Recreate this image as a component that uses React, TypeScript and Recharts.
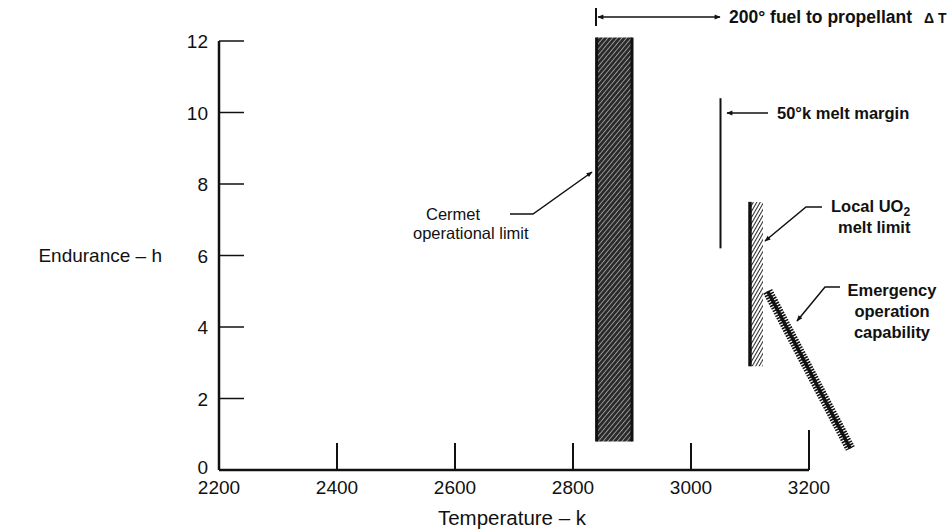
import React from 'react';
import {
  ComposedChart, XAxis, YAxis, Line, ReferenceArea, ReferenceLine, Customized,
} from 'recharts';

const temperatureTicks = [2200, 2400, 2600, 2800, 3000, 3200];
const enduranceTicks = [0, 2, 4, 6, 8, 10, 12];

// cermet operational limit band (K / h)
const cermetTemp = [2840, 2900];
const cermetHours = [0.8, 12.1];

// local UO2 melt limit
const uo2Temp = [3100, 3122];
const uo2Hours = [2.9, 7.5];

// 50 K melt margin marker
const marginTemp = [3050];
const marginHours = [6.2, 10.4];

// emergency operation capability
const emergencyTemp = [3130, 3270];
const emergencyHours = [5.0, 0.6];

const emergency = emergencyTemp.map((t, i) => ({ t, h: emergencyHours[i] }));

const FONT = '"Liberation Sans", Arial, Helvetica, sans-serif';
const INK = '#111';

const XTick = (props: any) => {
  const { x, y, payload } = props;
  const v = payload.value;
  return (
    <g>
      {v !== 2200 && (
        <line x1={x} x2={x} y1={y} y2={y - (v === 3200 ? 40 : 27)} stroke={INK} strokeWidth={2} />
      )}
      <text x={x} y={y + 24} textAnchor="middle" fontSize={19} fontFamily={FONT} fill={INK}>
        {v}
      </text>
    </g>
  );
};

const YTick = (props: any) => {
  const { x, y, payload } = props;
  const v = payload.value;
  return (
    <g>
      {v !== 0 && <line x1={x} x2={x + 25} y1={y} y2={y} stroke={INK} strokeWidth={1.5} />}
      <text x={x - 11} y={v === 0 ? y + 4 : y + 7} textAnchor="end" fontSize={19} fontFamily={FONT} fill={INK}>
        {v}
      </text>
    </g>
  );
};

const txt = { fontFamily: FONT, fontSize: 16.5, fontWeight: 'bold' as const, fill: INK };

const Notes = () => (
  <g>
    <text x={162} y={262} textAnchor="end" fontFamily={FONT} fontSize={19} fill={INK}>Endurance – h</text>
    <text x={512} y={525} textAnchor="middle" fontFamily={FONT} fontSize={20.5} fill={INK}>Temperature – k</text>

    {/* 200 deg fuel to propellant */}
    <line x1={596} x2={596} y1={8} y2={26} stroke={INK} strokeWidth={2} />
    <line x1={598} x2={720} y1={17} y2={17} stroke={INK} strokeWidth={1.3}
      markerStart="url(#arrowHead)" markerEnd="url(#arrowHead)" />
    <text x={729} y={23} {...txt} fontSize={17.5}>200° fuel to propellant</text>
    <text x={924} y={23} {...txt} fontSize={14}>Δ T</text>

    {/* 50 K melt margin */}
    <line x1={768} x2={727} y1={113} y2={113} stroke={INK} strokeWidth={1.3} markerEnd="url(#arrowHead)" />
    <text x={777} y={119} {...txt}>50°k melt margin</text>

    {/* cermet */}
    <text x={426} y={220} {...txt} fontWeight="normal">Cermet</text>
    <text x={413} y={239} {...txt} fontWeight="normal">operational limit</text>
    <polyline points="510,214 533,214 592,172" fill="none" stroke={INK} strokeWidth={1.5} markerEnd="url(#arrowHead)" />

    {/* local UO2 */}
    <text x={831} y={212} {...txt}>Local UO<tspan fontSize={12} dy={4}>2</tspan></text>
    <text x={838} y={233} {...txt}>melt limit</text>
    <polyline points="822,207 806,207 765,241" fill="none" stroke={INK} strokeWidth={1.5} markerEnd="url(#arrowHead)" />

    {/* emergency */}
    <text x={892} y={296} textAnchor="middle" {...txt}>Emergency</text>
    <text x={892} y={317} textAnchor="middle" {...txt}>operation</text>
    <text x={892} y={338} textAnchor="middle" {...txt}>capability</text>
    <polyline points="840,287 825,287 797,321" fill="none" stroke={INK} strokeWidth={1.5} markerEnd="url(#arrowHead)" />
  </g>
);

export default function App() {
  return (
    <div style={{ position: 'absolute', left: 0, top: 0, background: '#fff' }}>
      <ComposedChart width={949} height={531} margin={{ top: 41, right: 81, bottom: 31, left: 159 }}>
        <defs>
          <pattern id="cermetHatch" width="3.6" height="3.6" patternUnits="userSpaceOnUse" patternTransform="rotate(40)">
            <rect width="3.6" height="3.6" fill="#2a2a2a" />
            <line x1="0" y1="0" x2="0" y2="3.6" stroke="#e8e8e8" strokeWidth="1.1" />
          </pattern>
          <pattern id="uo2Hatch" width="3" height="3" patternUnits="userSpaceOnUse" patternTransform="rotate(30)">
            <rect width="3" height="3" fill="#fff" />
            <line x1="0" y1="0" x2="0" y2="3" stroke={INK} strokeWidth="1.8" />
          </pattern>
          <marker id="arrowHead" viewBox="0 0 10 10" refX="9" refY="5" markerWidth="9" markerHeight="6"
            orient="auto-start-reverse" markerUnits="userSpaceOnUse">
            <path d="M0,1 L10,5 L0,9 z" fill={INK} />
          </marker>
        </defs>
        <XAxis
          type="number"
          dataKey="t"
          domain={[2200, 3300]}
          ticks={temperatureTicks}
          interval={0}
          allowDataOverflow
          axisLine={false}
          tickLine={false}
          tickSize={0}
          tickMargin={0}
          height={30}
          tick={XTick}
        />
        <YAxis
          type="number"
          domain={[0, 12]}
          ticks={enduranceTicks}
          interval={0}
          width={60}
          axisLine={{ stroke: INK, strokeWidth: 2.5 }}
          tickLine={false}
          tickSize={0}
          tickMargin={0}
          tick={YTick}
        />
        <ReferenceLine
          segment={[{ x: temperatureTicks[0], y: 0 }, { x: temperatureTicks[temperatureTicks.length - 1], y: 0 }]}
          stroke={INK} strokeWidth={2.5} ifOverflow="visible"
        />
        <ReferenceArea
          x1={cermetTemp[0]} x2={cermetTemp[1]} y1={cermetHours[0]} y2={cermetHours[1]}
          fill="url(#cermetHatch)" fillOpacity={1} stroke="none" ifOverflow="visible"
        />
        {cermetTemp.map((t) => (
          <ReferenceLine key={t} segment={[{ x: t, y: cermetHours[0] }, { x: t, y: cermetHours[1] }]}
            stroke={INK} strokeWidth={3} ifOverflow="visible" />
        ))}
        <ReferenceArea
          x1={uo2Temp[0]} x2={uo2Temp[1]} y1={uo2Hours[0]} y2={uo2Hours[1]}
          fill="url(#uo2Hatch)" fillOpacity={1} stroke="none" ifOverflow="visible"
        />
        <ReferenceLine segment={[{ x: uo2Temp[0], y: uo2Hours[0] }, { x: uo2Temp[0], y: uo2Hours[1] }]}
          stroke={INK} strokeWidth={3.5} ifOverflow="visible" />
        <ReferenceLine segment={[{ x: marginTemp[0], y: marginHours[0] }, { x: marginTemp[0], y: marginHours[1] }]}
          stroke={INK} strokeWidth={2} ifOverflow="visible" />
        <Line data={emergency} dataKey="h" stroke={INK} strokeWidth={10} strokeDasharray="1.6 1.2"
          dot={false} activeDot={false} isAnimationActive={false} legendType="none" />
        <Line data={emergency} dataKey="h" stroke={INK} strokeWidth={3.5}
          dot={false} activeDot={false} isAnimationActive={false} legendType="none" />
        <Customized component={Notes} />
      </ComposedChart>
    </div>
  );
}
